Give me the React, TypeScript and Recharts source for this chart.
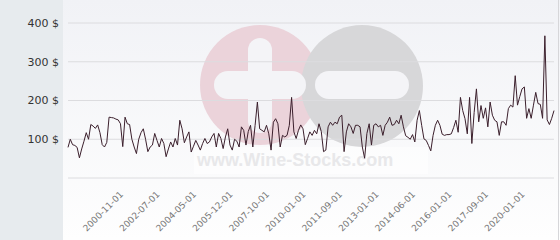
import React from 'react'
import { LineChart, Line, XAxis, YAxis, CartesianGrid } from 'recharts'

// month of each quote (YYYY-MM), first day of month
const MONTHS = [
  '1998-11', '1998-12', '1999-01', '1999-02', '1999-03', '1999-04', '1999-05', '1999-06', '1999-07', '1999-08', '1999-09', '1999-10',
  '1999-11', '1999-12', '2000-01', '2000-02', '2000-03', '2000-04', '2000-05', '2000-06', '2000-07', '2000-08', '2000-09', '2000-10',
  '2000-11', '2000-12', '2001-01', '2001-02', '2001-04', '2001-05', '2001-06', '2001-07', '2001-09', '2001-10', '2001-11', '2001-12',
  '2002-02', '2002-03', '2002-04', '2002-06',
  '2002-07', '2002-08', '2002-10', '2002-11', '2002-12', '2003-02', '2003-03', '2003-05', '2003-06', '2003-07', '2003-09', '2003-10',
  '2003-12', '2004-01', '2004-02', '2004-04',
  '2004-05', '2004-06', '2004-07', '2004-08', '2004-10', '2004-11', '2004-12', '2005-01', '2005-02', '2005-04', '2005-05', '2005-06',
  '2005-07', '2005-08', '2005-10', '2005-11',
  '2005-12', '2006-01', '2006-03', '2006-04', '2006-05', '2006-07', '2006-08', '2006-10', '2006-11', '2006-12', '2007-02', '2007-03',
  '2007-05', '2007-06', '2007-07', '2007-09',
  '2007-10', '2007-12', '2008-01', '2008-03', '2008-05', '2008-06', '2008-08', '2008-10', '2008-12', '2009-02', '2009-03', '2009-05',
  '2009-07', '2009-08', '2009-10', '2009-12',
  '2010-01', '2010-02', '2010-03', '2010-05', '2010-06', '2010-07', '2010-08', '2010-10', '2010-11', '2010-12', '2011-01', '2011-03',
  '2011-04', '2011-05', '2011-06', '2011-08',
  '2011-09', '2011-10', '2011-11', '2011-12', '2012-01', '2012-02', '2012-03', '2012-04', '2012-05', '2012-06', '2012-07', '2012-08',
  '2012-09', '2012-10', '2012-11', '2012-12',
  '2013-01', '2013-02', '2013-03', '2013-04', '2013-05', '2013-06', '2013-07', '2013-08', '2013-09', '2013-10', '2013-11', '2013-12',
  '2014-01', '2014-02', '2014-03', '2014-05',
  '2014-06', '2014-07', '2014-08', '2014-10', '2014-11', '2014-12', '2015-01', '2015-02', '2015-03', '2015-05', '2015-06', '2015-07',
  '2015-08', '2015-09', '2015-11', '2015-12',
  '2016-01', '2016-02', '2016-03', '2016-05', '2016-06', '2016-07', '2016-08', '2016-10', '2016-11', '2016-12', '2017-01', '2017-02',
  '2017-04', '2017-05', '2017-06', '2017-08',
  '2017-09', '2017-11', '2018-01', '2018-03', '2018-04', '2018-06', '2018-08', '2018-09', '2018-11', '2019-01', '2019-03', '2019-05',
  '2019-06', '2019-08', '2019-10', '2019-11',
  '2020-01', '2020-03', '2020-05', '2020-06', '2020-08', '2020-10', '2020-12', '2021-02', '2021-03', '2021-05', '2021-07', '2021-09',
  '2021-10', '2021-12',
]

// price in $
const PRICES = [
  79, 100, 86, 84, 79, 52, 75, 95, 117, 100,
  138, 134, 128, 137, 117, 86, 80, 92, 157, 156,
  155, 152, 150, 140, 81, 157, 140, 138, 100, 80,
  63, 100, 117, 127, 100, 68, 80, 85, 115, 97,
  80, 102, 89, 55, 75, 93, 80, 102, 85, 149,
  127, 91, 106, 119, 67, 82, 97, 85, 72, 89,
  102, 89, 93, 106, 115, 80, 115, 102, 76, 106,
  127, 85, 72, 100, 95, 80, 132, 123, 85, 120,
  136, 80, 136, 196, 127, 123, 119, 136, 114, 72,
  144, 153, 140, 80, 110, 106, 110, 136, 208, 119,
  102, 123, 137, 127, 86, 102, 119, 110, 123, 114,
  140, 120, 68, 72, 132, 144, 136, 144, 140, 157,
  162, 68, 119, 140, 132, 115, 136, 136, 132, 80,
  51, 115, 140, 85, 136, 140, 132, 136, 110, 136,
  144, 157, 136, 138, 149, 140, 162, 132, 109, 105,
  100, 112, 93, 149, 174, 136, 101, 97, 84, 70,
  110, 136, 149, 136, 113, 110, 112, 112, 114, 130,
  149, 118, 208, 174, 153, 114, 208, 89, 169, 230,
  145, 187, 154, 181, 132, 196, 162, 149, 145, 110,
  145, 145, 136, 179, 188, 183, 264, 188, 210, 230,
  235, 154, 179, 154, 188, 221, 192, 190, 154, 367,
  150, 138, 154, 174,
]

const DATE_TICKS = [
  '2000-11-01', '2002-07-01', '2004-05-01', '2005-12-01', '2007-10-01', '2010-01-01',
  '2011-09-01', '2013-01-01', '2014-06-01', '2016-01-01', '2017-09-01', '2020-01-01',
]
const PRICE_TICKS = [0, 100, 200, 300, 400]

const DateTick = ({ x, y, payload }: any) => (
  <text
    x={x + 1}
    y={y + 9}
    transform={`rotate(-45, ${x + 1}, ${y + 9})`}
    textAnchor="end"
    fontSize={9}
    fontFamily="DejaVu Sans"
    fill="#777"
  >
    {payload.value}
  </text>
)

// faint logo drawn behind the plot
const Watermark = () => (
  <svg width={560} height={240} style={{ position: 'absolute', left: 0, top: 0 }}>
    <circle cx={260} cy={85} r={60} fill="#ebd3da" />
    <circle cx={362} cy={86} r={61} fill="#d7d7d9" />
    <rect x={248} y={38} width={24} height={95} rx={12} fill="#f4f4f7" />
    <rect x={214} y={71} width={92} height={28} rx={14} fill="#f4f4f7" />
    <rect x={315} y={71} width={94} height={28} rx={14} fill="#f4f4f7" />
    <rect x={194} y={147} width={234} height={27} fill="#ffffff" opacity={0.5} />
    <text x={197} y={166} fontSize={18} fontWeight="bold" fontFamily="Liberation Sans" fill="#e8e8ea">
      www.Wine-Stocks.com
    </text>
    <line x1={558.5} y1={0} x2={558.5} y2={240} stroke="#d6d6d9" />
  </svg>
)

export default function App() {
  const data = MONTHS.map((m, i) => ({ date: m + '-01', price: PRICES[i] }))

  return (
    <div style={{ position: 'absolute', left: 0, top: 0, width: 560, height: 240, overflow: 'hidden',
      background: 'linear-gradient(#f1f2f6, #fefefe)' }}>
      <div style={{ position: 'absolute', left: 0, top: 0, width: 63, height: 240, background: '#e7ebee' }} />
      <Watermark />
      <div style={{ position: 'absolute', left: 0, top: 0 }}>
        <LineChart width={560} height={240} data={data} margin={{ top: 23, right: 6, bottom: 0, left: 0 }}>
          <CartesianGrid vertical={false} stroke="#dcdcdf" />
          <XAxis
            dataKey="date"
            ticks={DATE_TICKS}
            interval={0}
            height={62}
            axisLine={false}
            tickLine={false}
            tick={<DateTick />}
          />
          <YAxis
            width={68}
            domain={[0, 400]}
            ticks={PRICE_TICKS}
            axisLine={false}
            tickLine={false}
            tickMargin={3}
            tick={{ fill: '#333', fontSize: 11, fontFamily: 'DejaVu Sans' }}
            tickFormatter={v => (v === 0 ? '' : `${v} $`)}
          />
          <Line type="linear" dataKey="price" stroke="#3b1f2c" strokeWidth={1} dot={false} isAnimationActive={false} />
        </LineChart>
      </div>
    </div>
  )
}
